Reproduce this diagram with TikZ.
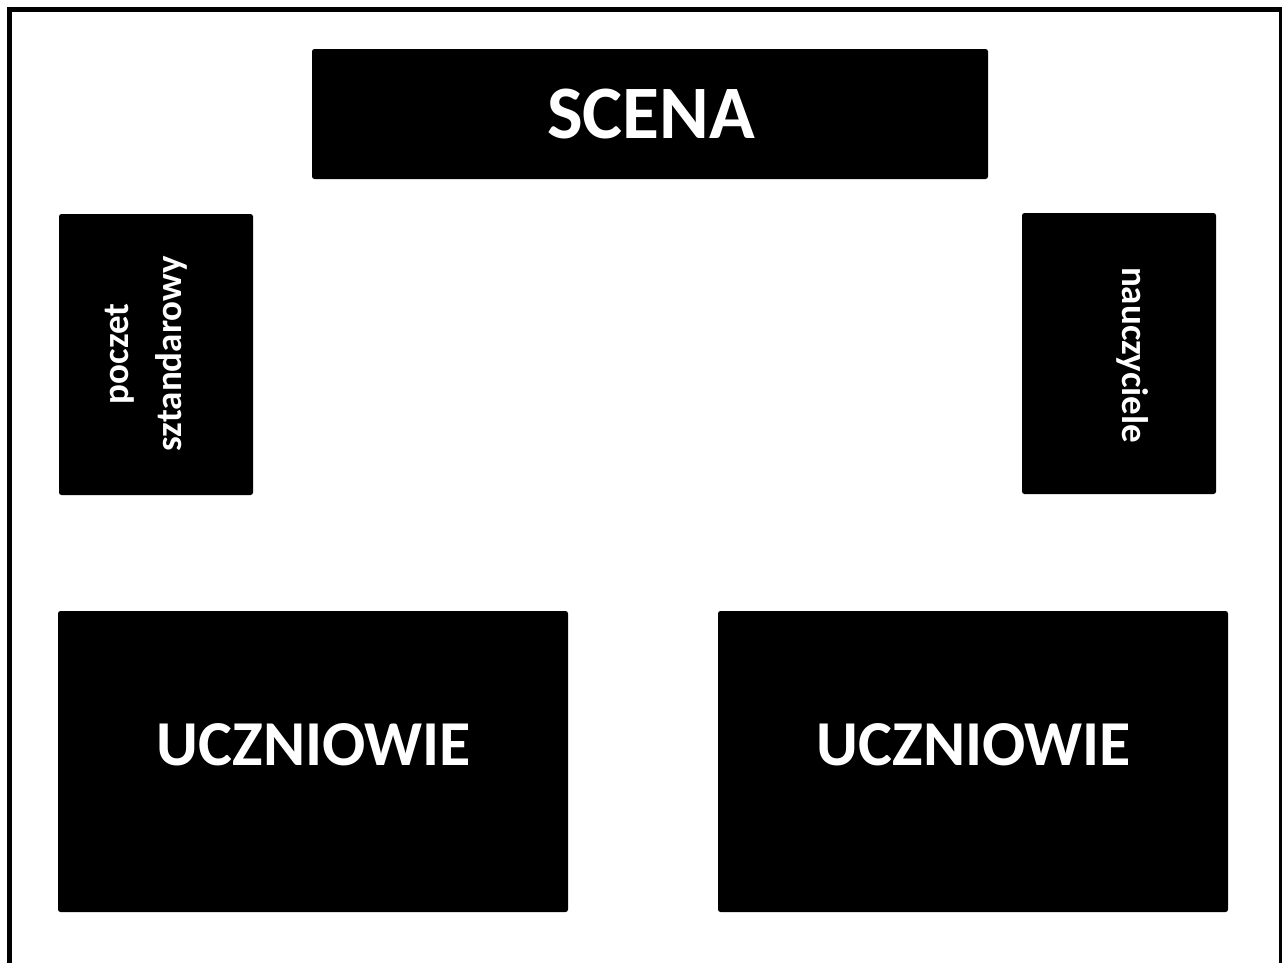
\documentclass[tikz,border=0pt]{standalone}
\usepackage{fontspec}
\setmainfont{Carlito}
\begin{document}
\begin{tikzpicture}[x=1pt,y=-1pt,
  blk/.style={fill=black,draw=none,rounded corners=2.5pt},
  lbl/.style={text=white,font=\bfseries,inner sep=0pt,align=center}]
\useasboundingbox (0,0) rectangle (1282,962);
\fill[white] (0,0) rectangle (1282,962);
% frame
\draw[line width=5pt] (9.5,975) -- (9.5,9.5) -- (1281.5,9.5) -- (1281.5,975);
% boxes
\fill[blk] (312,49) rectangle (988,179);
\coordinate (scenaC) at (651,114);
\node[lbl,font=\fontsize{75.5}{80}\selectfont\bfseries] (scena) at (scenaC) {SCENA};
\fill[blk] (59,214) rectangle (253,495);
\node[lbl,rotate=90,font=\fontsize{37}{53}\selectfont\bfseries] (poczet) at (146,354) {poczet\\sztandarowy};
\fill[blk] (1022,213) rectangle (1216,494);
\node[lbl,rotate=-90,font=\fontsize{37}{53}\selectfont\bfseries] (naucz) at (1133,355) {nauczyciele};
\fill[blk] (58,611) rectangle (568,912);
\node[lbl,font=\fontsize{64}{70}\selectfont\bfseries] (ucz1) at (314,745) {UCZNIOWIE};
\fill[blk] (718,611) rectangle (1228,912);
\node[lbl,font=\fontsize{64}{70}\selectfont\bfseries] (ucz2) at (974,745) {UCZNIOWIE};
\end{tikzpicture}
\end{document}
